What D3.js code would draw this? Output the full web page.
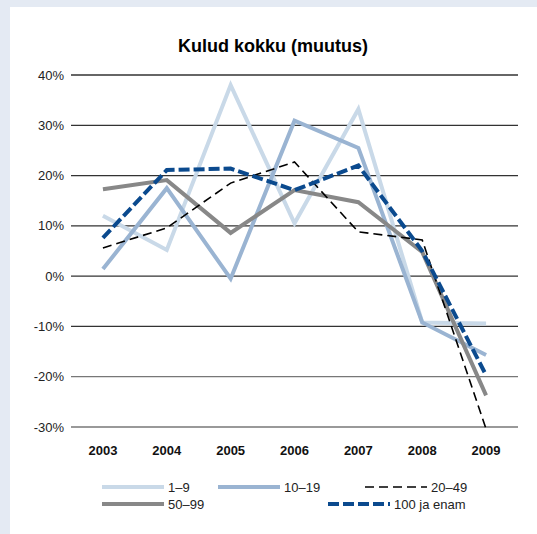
<!DOCTYPE html>
<html><head><meta charset="utf-8">
<script src="https://cdn.jsdelivr.net/npm/d3@7"></script>
<style>html,body{margin:0;padding:0;background:#e4eaf3;}svg{display:block;font-family:"Liberation Sans",Arial,sans-serif;}</style>
</head><body>
<script>
const years = ["2003","2004","2005","2006","2007","2008","2009"];
const yTicks = [40,30,20,10,0,-10,-20,-30];
const s1_9 = [12,5.2,38,10.5,33.2,-9.2,-9.4];
const s10_19 = [1.4,17.5,-0.5,30.9,25.5,-9.2,-15.7];
const s20_49 = [5.6,9.6,18.5,22.7,8.8,7.2,-30.4];
const s50_99 = [17.3,19.1,8.6,17.1,14.7,4.8,-23.7];
const s100 = [7.6,21.1,21.4,17.1,22,5,-19.7];
const seriesNames = ["1–9","10–19","20–49","50–99","100 ja enam"];

const W=537,H=534;
const svg=d3.select("body").append("svg").attr("width",W).attr("height",H);
svg.append("rect").attr("width",W).attr("height",H).attr("fill","#e4eaf3");
svg.append("rect").attr("x",10).attr("y",7).attr("width",W-10).attr("height",H-7).attr("fill","#fff");

const x=d3.scaleBand().domain(years).range([71,518]);
const y=d3.scaleLinear().domain([-30,40]).range([427,75]);

svg.append("text").attr("x",273).attr("y",52).attr("text-anchor","middle")
  .attr("font-size",18).attr("font-weight","bold").text("Kulud kokku (muutus)");

const g=svg.append("g");
yTicks.forEach(t=>{
  g.append("line").attr("x1",71).attr("x2",518).attr("y1",y(t)).attr("y2",y(t))
   .attr("stroke",t<=-20?"#777":"#333").attr("stroke-width",1.3);
  g.append("text").attr("x",64).attr("y",y(t)+4.5).attr("text-anchor","end")
   .attr("font-size",13).attr("fill","#222").text(t+"%");
});
years.forEach(yr=>{
  g.append("text").attr("x",x(yr)+x.bandwidth()/2).attr("y",455).attr("text-anchor","middle")
   .attr("font-size",13).attr("font-weight","bold").attr("fill","#111").text(yr);
});

const styles=[
 {data:s1_9,color:"#c9d9e8",w:4,dash:null},
 {data:s10_19,color:"#9ab4d2",w:4,dash:null},
 {data:s50_99,color:"#888888",w:4,dash:null},
 {data:s20_49,color:"#000",w:1.6,dash:"9,5"},
 {data:s100,color:"#0b4a8e",w:4,dash:"11,4"}
];
const line=d3.line().x((d,i)=>x(years[i])+x.bandwidth()/2).y(d=>y(d));
styles.forEach(s=>{
  svg.append("path").datum(s.data).attr("d",line).attr("fill","none")
   .attr("stroke",s.color).attr("stroke-width",s.w).attr("stroke-dasharray",s.dash);
});

const leg=[
 {name:seriesNames[0],color:"#c9d9e8",w:4,dash:null,x:102,y:487},
 {name:seriesNames[1],color:"#9ab4d2",w:4,dash:null,x:218,y:487},
 {name:seriesNames[2],color:"#000",w:1.6,dash:"9,5",x:365,y:487},
 {name:seriesNames[3],color:"#888888",w:4,dash:null,x:102,y:504},
 {name:seriesNames[4],color:"#0b4a8e",w:4,dash:"11,4",x:328,y:504}
];
leg.forEach(l=>{
  svg.append("line").attr("x1",l.x).attr("x2",l.x+62).attr("y1",l.y).attr("y2",l.y)
   .attr("stroke",l.color).attr("stroke-width",l.w).attr("stroke-dasharray",l.dash);
  svg.append("text").attr("x",l.x+66).attr("y",l.y+5).attr("font-size",13).attr("fill","#222").text(l.name);
});
</script>
</body></html>
